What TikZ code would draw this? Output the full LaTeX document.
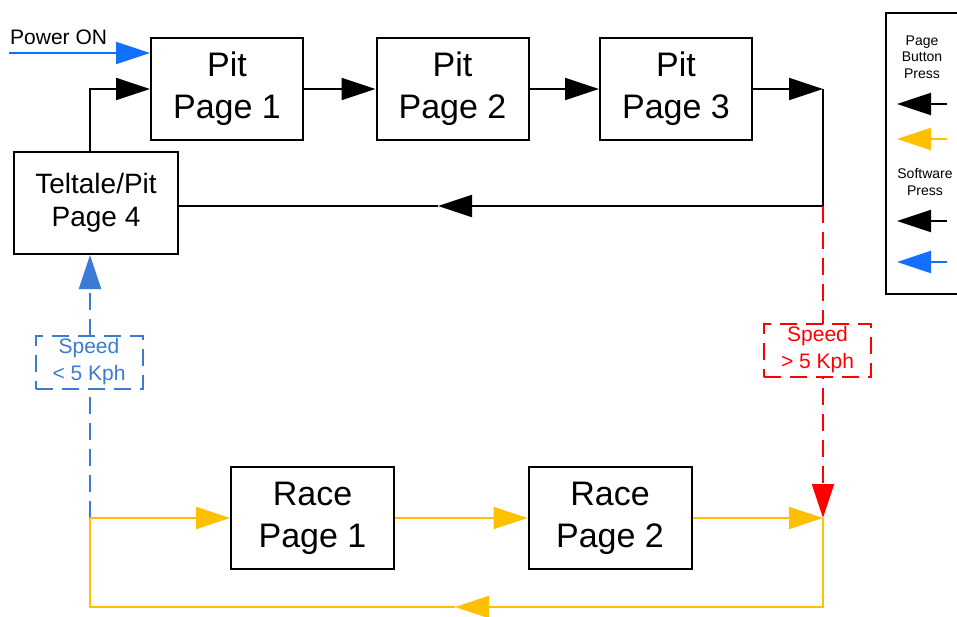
\documentclass[tikz,border=0pt]{standalone}
\usepackage{fontspec}
\setmainfont{Liberation Sans}
\usetikzlibrary{arrows.meta}
\definecolor{cOrange}{HTML}{FFC000}
\definecolor{cBlue}{HTML}{1170FF}
\definecolor{cDBlue}{HTML}{3B7BD4}
\definecolor{cRed}{HTML}{FF0000}
\begin{document}
\begin{tikzpicture}[x=1pt,y=-1pt,
  pagebox/.style={draw, line width=2pt, minimum width=152pt, minimum height=102pt, align=center, inner sep=0pt, font=\fontsize{34}{42}\selectfont},
  racebox/.style={pagebox, minimum width=163pt},
  telbox/.style={draw, line width=2pt, minimum width=164pt, minimum height=102pt, align=center, inner sep=0pt, font=\fontsize{28}{33}\selectfont},
  tipA/.style={-{Triangle[length=34pt,width=22pt]}},
  conn/.style={line width=2pt},
  dashA/.style={dash pattern=on 17pt off 9pt},
  spdlbl/.style={line width=2pt, dashA, fill=white, minimum width=107pt, minimum height=53pt, align=center, inner sep=0pt, font=\fontsize{21}{27}\selectfont},
  legtext/.style={align=center, inner sep=0pt, font=\fontsize{14}{16.5}\selectfont}
]
\clip (0,0) rectangle (957,617);
\fill[white] (0,0) rectangle (957,617);

% nodes
\node[pagebox] (p1) at (227,89) {Pit\\Page 1};
\node[pagebox] (p2) at (452.5,89) {Pit\\Page 2};
\node[pagebox] (p3) at (676,89) {Pit\\Page 3};
\node[telbox] (tel) at (96,203) {Teltale/Pit\\Page 4};
\node[racebox] (r1) at (312.5,518) {Race\\Page 1};
\node[racebox] (r2) at (610,518) {Race\\Page 2};
\node[draw, line width=2pt, anchor=north west, minimum width=75pt, minimum height=281pt, inner sep=0pt] (legend) at (885,12) {};

% coordinates
\coordinate (pwr) at (9,53);
\coordinate (cR) at (823,89);
\coordinate (cRm) at (823,206);
\coordinate (midT) at (438,206);
\coordinate (jL) at (90,518);
\coordinate (jR) at (823,518);
\coordinate (bR) at (823,607);
\coordinate (bM) at (455,607);
\coordinate (bL) at (90,607);

% power on
\node[anchor=west, inner sep=0pt, font=\fontsize{21}{24}\selectfont] (pwrtxt) at (10,37) {Power ON};
\draw[conn, cBlue, tipA] (pwr) -- (pwr -| p1.west);

% pit chain
\draw[conn, tipA] (jL |- tel.north) |- (p1.west);
\draw[conn, tipA] (p1.east) -- (p2.west);
\draw[conn, tipA] (p2.east) -- (p3.west);
\draw[conn, tipA] (p3.east) -- (cR);
\draw[conn, tipA] (cR) |- (midT);
\draw[conn] (midT) -- (midT -| tel.east);

% speed transitions
\draw[conn, cRed, dashA, tipA] (cRm) -- (jR);
\draw[conn, cDBlue, dashA, tipA] (jL) -- (jL |- tel.south);

% race chain
\draw[conn, cOrange, tipA] (jL) -- (r1.west);
\draw[conn, cOrange, tipA] (r1.east) -- (r2.west);
\draw[conn, cOrange, tipA] (r2.east) -- (jR);
\draw[conn, cOrange, tipA] (jR) -- (bR) -- (bM);
\draw[conn, cOrange] (bM) -- (bL) -- (jL);

% speed labels
\node[spdlbl, draw=cRed, text=cRed] (sfast) at (817.5,350) {Speed\\> 5 Kph};
\node[spdlbl, draw=cDBlue, text=cDBlue] (sslow) at (89,362) {Speed\\< 5 Kph};

% legend
\node[legtext] (lg1) at (922,57) {Page\\Button\\Press};
\node[legtext] (lg2) at (925,182) {Software\\Press};
\coordinate (la1) at (947,104);
\coordinate (la2) at (947,139);
\coordinate (la3) at (947,221);
\coordinate (la4) at (947,262);
\draw[conn, tipA] (la1) -- +(-50,0);
\draw[conn, cOrange, tipA] (la2) -- +(-50,0);
\draw[conn, tipA] (la3) -- +(-50,0);
\draw[conn, cBlue, tipA] (la4) -- +(-50,0);
\end{tikzpicture}
\end{document}
